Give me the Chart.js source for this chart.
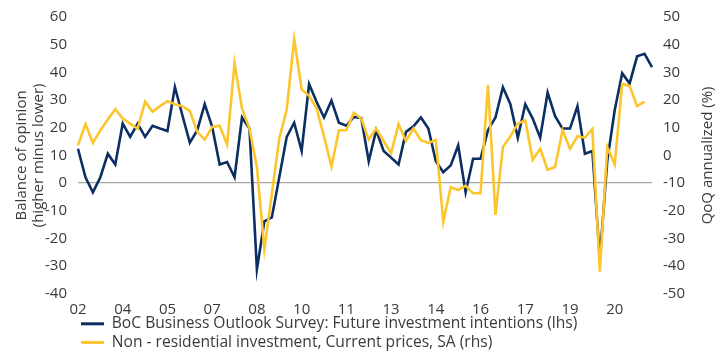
<!DOCTYPE html>
<html>
<head>
<meta charset="utf-8">
<script src="https://cdn.jsdelivr.net/npm/chart.js@4/dist/chart.umd.min.js"></script>
<style>
  html, body { margin: 0; padding: 0; background: #fff; }
  #wrap { width: 720px; height: 351px; position: relative; }
</style>
</head>
<body>
<div id="wrap"><canvas id="invest-chart"></canvas></div>
<script>
// quarterly, 2002Q4 .. 2022Q1
var quarters = [
  '2002Q4',
  '2003Q1', '2003Q2', '2003Q3', '2003Q4',
  '2004Q1', '2004Q2', '2004Q3', '2004Q4',
  '2005Q1', '2005Q2', '2005Q3', '2005Q4',
  '2006Q1', '2006Q2', '2006Q3', '2006Q4',
  '2007Q1', '2007Q2', '2007Q3', '2007Q4',
  '2008Q1', '2008Q2', '2008Q3', '2008Q4',
  '2009Q1', '2009Q2', '2009Q3', '2009Q4',
  '2010Q1', '2010Q2', '2010Q3', '2010Q4',
  '2011Q1', '2011Q2', '2011Q3', '2011Q4',
  '2012Q1', '2012Q2', '2012Q3', '2012Q4',
  '2013Q1', '2013Q2', '2013Q3', '2013Q4',
  '2014Q1', '2014Q2', '2014Q3', '2014Q4',
  '2015Q1', '2015Q2', '2015Q3', '2015Q4',
  '2016Q1', '2016Q2', '2016Q3', '2016Q4',
  '2017Q1', '2017Q2', '2017Q3', '2017Q4',
  '2018Q1', '2018Q2', '2018Q3', '2018Q4',
  '2019Q1', '2019Q2', '2019Q3', '2019Q4',
  '2020Q1', '2020Q2', '2020Q3', '2020Q4',
  '2021Q1', '2021Q2', '2021Q3', '2021Q4',
  '2022Q1'
];

// BoC BOS future investment intentions, balance of opinion (lhs)
var bosIntentions = [
  12.4,
  2.1, -3.3, 2.1, 10.6,
  6.7, 21.5, 16.7, 21.5,
  16.7, 20.7, 19.7, 18.8,
  34.7, 24.5, 14.6, 19.1,
  28.5, 20.3, 6.7, 7.6,
  2.1, 23.7, 19.7, -31.2,
  -13.8, -12.4, 2.1, 16.7,
  21.8, 11.6, 35.8, 29.4,
  23.7, 29.8, 21.8, 20.7,
  23.9, 23.5, 7.9, 19.1,
  11.6, 9.2, 6.7, 18.5,
  20.5, 23.7, 19.7, 7.9,
  3.9, 6.4, 13.6, -3.3,
  8.8, 8.8, 19.1, 23.7,
  34.6, 28.5, 16.4, 28.5,
  23.3, 16.4, 32.7, 24.2,
  19.7, 19.7, 27.8, 10.6,
  11.6, -27.5, 8, 26.4,
  39.7, 36, 45.8, 46.7,
  41.9
];

// non-residential investment, QoQ annualized % (rhs)
var nonResInvestment = [
  3.6,
  11.3, 4.5, 9.1, 13,
  16.7, 13.3, 11.5, 9.7,
  19.4, 15.8, 17.8, 19.6,
  18.5, 17.8, 16.1, 8.5,
  5.7, 10.3, 10.7, 3.9,
  33.3, 17, 9.7, -4.2,
  -33.9, -14, 6, 16.6,
  42, 23.9, 21.5, 17,
  6.9, -4, 9.1, 9.1,
  15.4, 13.3, 5.7, 9.7,
  5.2, 0.8, 11.3, 5.2,
  9.7, 5.5, 4.5, 5.5,
  -23.9, -11.5, -12.5, -10.9,
  -13.7, -13.7, 25.5, -21.5,
  3, 6.9, 11.5, 12.7,
  -1.6, 2.4, -5.2, -4.2,
  9.1, 2.4, 6.9, 6.4,
  9.5, -42, 3, -3.3,
  25.8, 25.1, 17.8, 19.4,
  null
];

var lhsTicks = { min: -40, max: 60, step: 10 };
var rhsTicks = { min: -50, max: 50, step: 10 };

var NAVY = '#0b2f62';
var GOLD = '#fdc52c';
var TEXT = '#3a3a3a';
var FONT = '"Open Sans", Roboto, sans-serif';

Chart.defaults.font.family = FONT;
Chart.defaults.font.size = 15;
Chart.defaults.color = TEXT;

var rhsTitle = {
  id: 'rhsTitle',
  afterLayout: function(chart) {
    // legend sits under the plot, lined up with its left edge
    chart.legend.left = chart.chartArea.left;
    chart.legend.top = 313;
  },
  afterDraw: function(chart) {
    // right-hand title reads bottom-to-top, like the left one
    var ctx = chart.ctx;
    var area = chart.chartArea;
    ctx.save();
    ctx.translate(chart.width - 12, (area.top + area.bottom) / 2);
    ctx.rotate(-Math.PI / 2);
    ctx.font = '15px ' + FONT;
    ctx.fillStyle = TEXT;
    ctx.textAlign = 'center';
    ctx.textBaseline = 'middle';
    ctx.fillText('QoQ annualized (%)', 0, 0);
    ctx.restore();
  }
};

var ctx = document.getElementById('invest-chart').getContext('2d');
var chart = new Chart(ctx, {
  type: 'line',
  data: {
    labels: quarters,
    datasets: [
      {
        label: 'BoC Business Outlook Survey: Future investment intentions (lhs)',
        data: bosIntentions,
        yAxisID: 'y',
        borderColor: NAVY,
        backgroundColor: NAVY,
        borderWidth: 2.6,
        pointRadius: 0,
        tension: 0,
        order: 1
      },
      {
        label: 'Non - residential investment, Current prices, SA (rhs)',
        data: nonResInvestment,
        yAxisID: 'y1',
        borderColor: GOLD,
        backgroundColor: GOLD,
        borderWidth: 2.6,
        pointRadius: 0,
        tension: 0,
        order: 0
      }
    ]
  },
  options: {
    responsive: true,
    maintainAspectRatio: false,
    animation: false,
    layout: { padding: { top: 17, bottom: -16, left: 0, right: 0 } },
    plugins: {
      tooltip: { enabled: false },
      legend: {
        position: 'bottom',
        align: 'start',
        labels: {
          boxWidth: 23,
          boxHeight: 3,
          padding: 3,
          color: TEXT,
          font: { size: 15.6 },
          sort: function(a, b) { return a.datasetIndex - b.datasetIndex; },
          generateLabels: function(chart) {
            var items = Chart.defaults.plugins.legend.labels.generateLabels(chart);
            items.forEach(function(it) { it.lineWidth = 0; });
            return items;
          }
        }
      }
    },
    scales: {
      x: {
        offset: false,
        grid: { display: false, drawTicks: false },
        border: { display: false },
        ticks: {
          autoSkip: false,
          maxRotation: 0,
          padding: 7,
          callback: function(value, index) {
            return index % 6 === 0 ? quarters[index].slice(2, 4) : null;
          }
        },
        afterFit: function(scale) { scale.height = 26; }
      },
      y: {
        position: 'left',
        min: lhsTicks.min,
        max: lhsTicks.max,
        ticks: { stepSize: lhsTicks.step, padding: 3 },
        border: { display: false },
        grid: {
          drawTicks: true,
          tickLength: 8,
          tickColor: 'rgba(0,0,0,0)',
          lineWidth: 1.2,
          color: function(c) { return c.tick && c.tick.value === 0 ? '#a6a6a6' : 'rgba(0,0,0,0)'; }
        },
        title: {
          display: true,
          text: ['Balance of opinion', '(higher minus lower)'],
          font: { size: 15, lineHeight: 1.15 },
          padding: { top: 13, bottom: 0 }
        },
        afterFit: function(scale) { scale.width = 78; }
      },
      y1: {
        position: 'right',
        min: rhsTicks.min,
        max: rhsTicks.max,
        ticks: { stepSize: rhsTicks.step, padding: 3 },
        border: { display: false },
        grid: {
          drawOnChartArea: false,
          drawTicks: true,
          tickLength: 8,
          tickColor: 'rgba(0,0,0,0)',
          color: 'rgba(0,0,0,0)'
        },
        afterFit: function(scale) { scale.width = 68; }
      }
    }
  },
  plugins: [rhsTitle]
});
</script>
</body>
</html>
